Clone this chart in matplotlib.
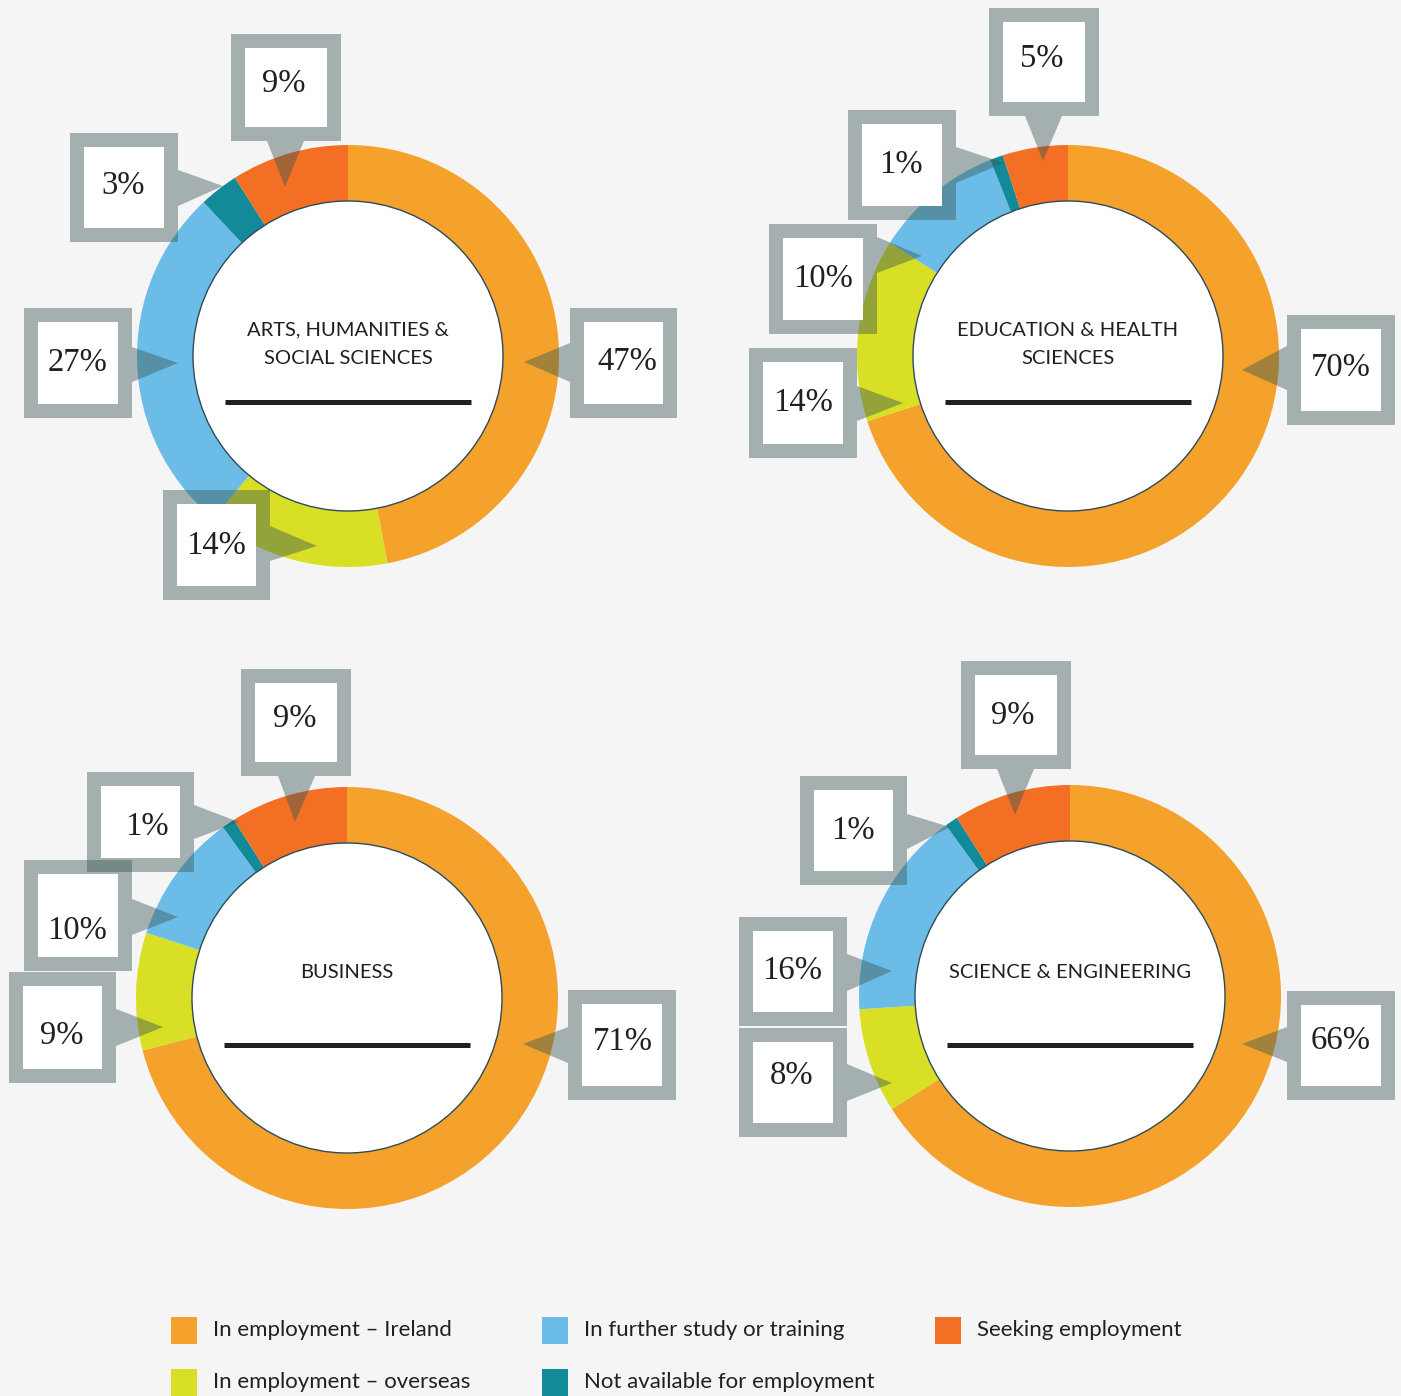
import matplotlib
matplotlib.use("Agg")
import matplotlib.pyplot as plt
from matplotlib.patches import Polygon, Rectangle, Circle

# outcome categories (clockwise from 12 o'clock)
categories = ["In employment – Ireland", "In employment – overseas",
              "In further study or training", "Not available for employment",
              "Seeking employment"]
colors = ["#f4a22b", "#d9df25", "#6bbde8", "#138a97", "#f26f24"]

faculties = [["ARTS, HUMANITIES &", "SOCIAL SCIENCES"],
             ["EDUCATION & HEALTH", "SCIENCES"],
             ["BUSINESS"],
             ["SCIENCE & ENGINEERING"]]
arts = [47, 14, 27, 3, 9]
education = [70, 14, 10, 1, 5]
business = [71, 9, 10, 1, 9]
science = [66, 8, 16, 1, 9]
values = [arts, education, business, science]

# layout in pixels (from top-left)
W, H = 1401, 1396
centers = [(348, 356), (1068, 356), (347, 998), (1070, 996)]
r_out, r_in = 211, 155
title_y = [330, 330, 973, 973]
rule_y = [402, 402, 1045, 1045]

# callout boxes: outer box (x0, y0, x1, y1), spike side, spike base, tip, label pos
callouts = [
    [((570, 308, 677, 418), "L", (343, 382), (524, 362), (627, 362)),
     ((163, 490, 270, 600), "R", (526, 561), (317, 546), (216, 546)),
     ((24, 308, 132, 418), "R", (347, 382), (178, 363), (78, 363)),
     ((70, 133, 178, 242), "R", (170, 206), (223, 186), (123, 186)),
     ((231, 34, 341, 141), "B", (267, 304), (285, 187), (284, 84))],
    [((1287, 315, 1395, 425), "L", (346, 390), (1242, 370), (1341, 368)),
     ((749, 348, 857, 458), "R", (386, 421), (903, 403), (803, 403)),
     ((769, 224, 877, 334), "R", (237, 273), (922, 256), (823, 279)),
     ((848, 110, 956, 220), "R", (147, 183), (1004, 163), (901, 165)),
     ((989, 8, 1099, 116), "B", (1025, 1062), (1043, 161), (1042, 59))],
    [((568, 990, 676, 1100), "L", (1027, 1063), (523, 1044), (623, 1042)),
     ((9, 972, 116, 1083), "R", (1009, 1046), (163, 1027), (62, 1036)),
     ((24, 860, 132, 971), "R", (899, 935), (178, 917), (77, 931)),
     ((87, 772, 194, 872), "R", (805, 839), (239, 822), (147, 827)),
     ((241, 669, 351, 776), "B", (278, 315), (295, 822), (295, 719))],
    [((1287, 991, 1395, 1100), "L", (1027, 1062), (1242, 1044), (1341, 1041)),
     ((739, 1028, 847, 1137), "R", (1064, 1101), (892, 1083), (792, 1076)),
     ((739, 917, 847, 1026), "R", (954, 991), (892, 971), (792, 971)),
     ((800, 776, 907, 885), "R", (814, 849), (950, 827), (853, 831)),
     ((961, 661, 1071, 769), "B", (997, 1034), (1015, 815), (1013, 716))],
]

legend_pos = [(171, 1317), (171, 1369), (542, 1317), (542, 1369), (935, 1317)]

bg = "#f5f5f5"
frame_col = "#3b5856"
ink = "#231f20"
serif = ["Liberation Serif", "DejaVu Serif"]
sans = ["Lato", "DejaVu Sans"]

fig = plt.figure(figsize=(W / 100, H / 100), dpi=100, facecolor=bg)
ax = fig.add_axes([0, 0, 1, 1])
ax.set_facecolor(bg)

for i, vals in enumerate(values):
    cx, cy = centers[i]
    # y axis is inverted, so counterclock=True reads clockwise on screen
    ax.pie(vals, colors=colors, center=(cx, cy), radius=r_out,
           startangle=-90, counterclock=True, frame=True,
           wedgeprops=dict(width=r_out - r_in, linewidth=0))
    ax.add_patch(Circle((cx, cy), r_in, facecolor="white",
                        edgecolor="#2e4a5b", lw=1.0, zorder=3))
    for k, line in enumerate(faculties[i]):
        ax.text(cx, title_y[i] + k * 28, line, ha="center", va="center",
                fontsize=14.5, color=ink, family=sans, zorder=4)
    ax.plot([cx - 123, cx + 123], [rule_y[i], rule_y[i]], color=ink,
            lw=3.6, solid_capstyle="butt", zorder=4)

    for v, (box, side, base, tip, lab) in zip(vals, callouts[i]):
        x0, y0, x1, y1 = box
        b0, b1 = base
        if side == "R":
            pts = [(x0, y0), (x1, y0), (x1, b0), tip, (x1, b1), (x1, y1), (x0, y1)]
        elif side == "L":
            pts = [(x0, y0), (x1, y0), (x1, y1), (x0, y1), (x0, b1), tip, (x0, b0)]
        else:
            pts = [(x0, y0), (x1, y0), (x1, y1), (b1, y1), tip, (b0, y1), (x0, y1)]
        ax.add_patch(Polygon(pts, closed=True, facecolor=frame_col,
                             alpha=0.44, lw=0, zorder=5))
        t = 14
        ax.add_patch(Rectangle((x0 + t, y0 + t), x1 - x0 - 2 * t, y1 - y0 - 2 * t,
                               facecolor="white", lw=0, zorder=6))
        ax.text(lab[0], lab[1], f"{v}%", ha="center", va="center",
                fontsize=23.5, color=ink, family=serif, zorder=7)

# legend
for (lx, ly), name, c in zip(legend_pos, categories, colors):
    ax.add_patch(Rectangle((lx, ly), 26, 27, facecolor=c, lw=0, zorder=2))
    ax.text(lx + 42, ly + 13.5, name, ha="left", va="center",
            fontsize=16, color=ink, family=sans)

ax.set_xlim(0, W)
ax.set_ylim(H, 0)
ax.set_aspect("equal")
ax.axis("off")

fig.savefig("out.png", dpi=100, facecolor=bg)
